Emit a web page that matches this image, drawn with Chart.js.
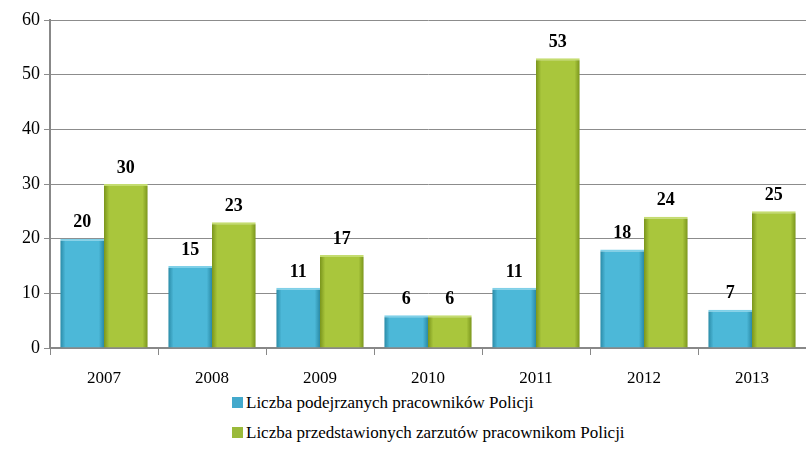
<!DOCTYPE html>
<html>
<head>
<meta charset="utf-8">
<script src="https://cdn.jsdelivr.net/npm/chart.js@4"></script>
<style>
  body { margin: 0; background: #fff; }
  #wrap { position: relative; width: 806px; height: 390px; }
  #legend { position: absolute; left: 232px; top: 392px; font-family: 'Liberation Serif', 'DejaVu Serif', serif; font-size: 17px; color: #000; }
  #legend div { height: 30px; line-height: 22px; }
  #legend span.box { display: inline-block; width: 11px; height: 11px; margin-right: 3px; vertical-align: 0px; }
</style>
</head>
<body>
<div id="wrap"><canvas id="chart" width="806" height="390"></canvas></div>
<div id="legend"></div>
<script>
// chart data
const years = ['2007', '2008', '2009', '2010', '2011', '2012', '2013'];
const suspects = [20, 15, 11, 6, 11, 18, 7];
const charges = [30, 23, 17, 6, 53, 24, 25];
const yTicks = [0, 10, 20, 30, 40, 50, 60];
const seriesNames = ['Liczba podejrzanych pracowników Policji', 'Liczba przedstawionych zarzutów pracownikom Policji'];

const serif = "'Liberation Serif', 'DejaVu Serif', serif";
const palettes = [
  { edge: '#2a8aa6', mid: '#4cb8d8', light: '#7fd0e8', legend: '#43a9cc' },
  { edge: '#7a951c', mid: '#a9c63c', light: '#c4dc70', legend: '#9aba3a' }
];

// horizontal gradient per bar, like the glossy office style
const gradientBars = {
  id: 'gradientBars',
  beforeDatasetsDraw(chart) {
    const ctx = chart.ctx;
    chart.data.datasets.forEach((ds, i) => {
      const p = palettes[i];
      chart.getDatasetMeta(i).data.forEach(bar => {
        const left = bar.x - bar.width / 2, right = bar.x + bar.width / 2;
        const g = ctx.createLinearGradient(left, 0, right, 0);
        g.addColorStop(0, p.edge);
        g.addColorStop(0.12, p.mid);
        g.addColorStop(0.5, p.mid);
        g.addColorStop(0.88, p.mid);
        g.addColorStop(1, p.edge);
        // options are shared between bars, so give each its own copy
        bar.options = Object.assign({}, bar.options, { backgroundColor: g, borderColor: p.light });
      });
    });
  }
};

// values above bars
const valueLabels = {
  id: 'valueLabels',
  afterDatasetsDraw(chart) {
    const ctx = chart.ctx;
    ctx.save();
    ctx.font = 'bold 18px ' + serif;
    ctx.fillStyle = '#000';
    ctx.textAlign = 'center';
    ctx.textBaseline = 'bottom';
    chart.data.datasets.forEach((ds, i) => {
      chart.getDatasetMeta(i).data.forEach((bar, j) => {
        ctx.fillText(ds.data[j], bar.x, bar.y - 7);
      });
    });
    ctx.restore();
  }
};

const chart = new Chart(document.getElementById('chart'), {
  type: 'bar',
  data: {
    labels: years,
    datasets: [
      { label: seriesNames[0], data: suspects, borderWidth: { top: 2 }, borderSkipped: 'bottom' },
      { label: seriesNames[1], data: charges, borderWidth: { top: 2 }, borderSkipped: 'bottom' }
    ]
  },
  options: {
    responsive: false,
    animation: false,
    categoryPercentage: 0.81,
    barPercentage: 1,
    layout: { padding: { top: 20, right: 0 } },
    plugins: { legend: { display: false }, tooltip: { enabled: false } },
    scales: {
      x: {
        grid: { drawOnChartArea: false, color: '#888', tickLength: 7, offset: true },
        border: { color: '#888', width: 2 },
        ticks: { color: '#000', font: { family: serif, size: 17 }, padding: 13 },
        afterFit: s => { s.height = 42; }
      },
      y: {
        min: 0, max: 60,
        afterBuildTicks: s => { s.ticks = yTicks.map(v => ({ value: v })); },
        grid: { color: '#8c8c8c', lineWidth: 1, tickLength: 6 },
        border: { color: '#888', width: 2 },
        ticks: { color: '#000', font: { family: serif, size: 18 }, padding: 4 },
        afterFit: s => { s.width = 50; }
      }
    }
  },
  plugins: [gradientBars, valueLabels]
});

// legend below the chart
const legend = document.getElementById('legend');
seriesNames.forEach((name, i) => {
  const row = document.createElement('div');
  row.innerHTML = '<span class="box" style="background:' + palettes[i].legend + '"></span>' + name;
  legend.appendChild(row);
});
</script>
</body>
</html>
